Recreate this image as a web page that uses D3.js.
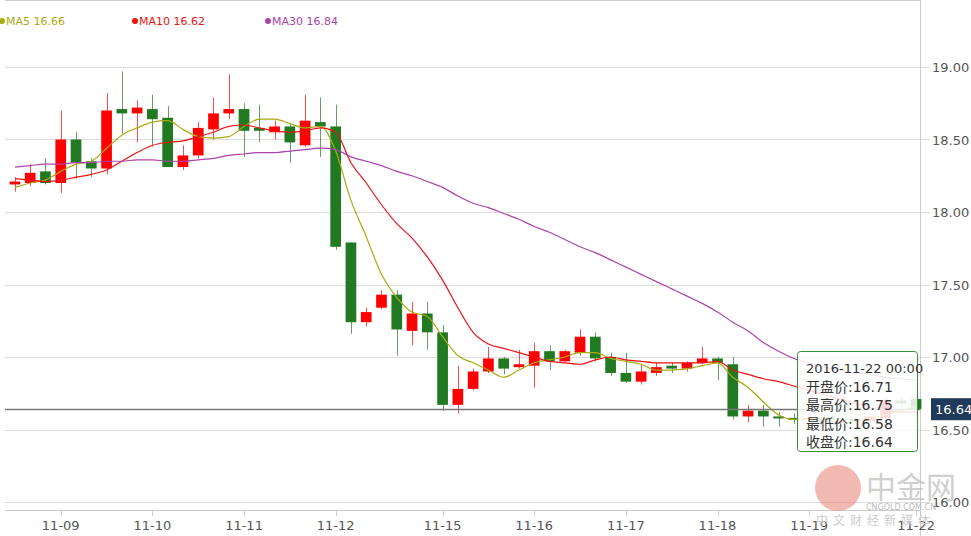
<!DOCTYPE html>
<html><head><meta charset="utf-8">
<script src="https://cdn.jsdelivr.net/npm/d3@7"></script>
<style>body{margin:0;background:#fff;font-family:"DejaVu Sans",sans-serif}</style>
</head><body><svg id="c" width="971" height="536"></svg>
<script>
const opens  =[18.19,18.20,18.28,18.20,18.50,18.35,18.30,18.71,18.68,18.71,18.65,18.31,18.39,18.57,18.68,18.71,18.58,18.55,18.59,18.46,18.62,18.59,17.79,17.24,17.34,17.43,17.18,17.30,17.17,16.67,16.78,16.90,16.99,16.93,16.94,17.04,16.97,17.03,17.14,17.00,16.89,16.83,16.89,16.94,16.92,16.96,16.99,16.95,16.59,16.63,16.59,16.58,16.57,16.58,16.55,16.57,16.56,16.58,16.70,16.71];
const closes =[18.21,18.27,18.20,18.50,18.34,18.30,18.70,18.68,18.72,18.64,18.31,18.39,18.58,18.68,18.71,18.56,18.56,18.59,18.48,18.63,18.59,17.76,17.24,17.31,17.43,17.19,17.30,17.17,16.67,16.78,16.90,16.99,16.92,16.95,17.04,16.97,17.04,17.14,16.99,16.89,16.83,16.90,16.93,16.92,16.96,16.99,16.96,16.59,16.63,16.59,16.58,16.57,16.58,16.55,16.56,16.56,16.59,16.70,16.68,16.64];
const highs  =[18.24,18.33,18.37,18.70,18.55,18.37,18.82,18.97,18.77,18.81,18.73,18.46,18.62,18.79,18.95,18.75,18.74,18.63,18.61,18.81,18.79,18.74,17.79,17.34,17.46,17.46,17.38,17.38,17.22,16.94,16.92,17.07,17.00,17.05,17.10,17.08,17.05,17.19,17.17,17.03,17.03,16.95,16.96,16.96,16.97,17.07,17.00,17.00,16.67,16.67,16.62,16.61,16.60,16.60,16.58,16.59,16.61,16.72,16.72,16.75];
const lows   =[18.14,18.18,18.19,18.13,18.23,18.24,18.26,18.54,18.48,18.45,18.31,18.29,18.37,18.50,18.64,18.38,18.48,18.50,18.34,18.45,18.38,17.74,17.16,17.21,17.33,17.01,17.08,17.05,16.63,16.61,16.77,16.89,16.88,16.92,16.79,16.91,16.96,17.01,16.97,16.87,16.82,16.81,16.87,16.89,16.90,16.95,16.84,16.57,16.55,16.52,16.52,16.54,16.55,16.55,16.52,16.54,16.54,16.56,16.66,16.58];
const ma5 =[18.17,18.20,18.22,18.28,18.33,18.35,18.44,18.53,18.58,18.62,18.63,18.57,18.52,18.51,18.52,18.59,18.64,18.64,18.61,18.58,18.59,18.42,18.08,17.83,17.57,17.41,17.31,17.28,17.14,17.01,16.96,16.91,16.86,16.91,16.96,16.98,17.00,17.03,17.03,16.99,16.97,16.95,16.91,16.91,16.92,16.94,16.96,16.86,16.79,16.69,16.60,16.57,16.57,16.58,16.57,16.57,16.58,16.60,16.63,16.66];
const ma10=[18.23,18.22,18.21,18.22,18.24,18.26,18.29,18.35,18.41,18.46,18.48,18.49,18.52,18.55,18.59,18.60,18.58,18.56,18.55,18.56,18.58,18.55,18.34,18.20,18.05,17.92,17.82,17.69,17.53,17.34,17.17,17.09,17.06,17.03,17.00,16.97,16.96,16.95,16.98,17.00,16.98,16.97,16.96,16.96,16.96,16.96,16.97,16.91,16.88,16.85,16.83,16.80,16.77,16.74,16.71,16.68,16.65,16.63,16.62,16.62];
const ma30=[18.31,18.32,18.33,18.33,18.34,18.34,18.35,18.35,18.36,18.36,18.35,18.35,18.36,18.37,18.39,18.40,18.41,18.41,18.42,18.43,18.44,18.43,18.38,18.35,18.32,18.28,18.25,18.21,18.17,18.11,18.06,18.03,17.99,17.95,17.90,17.86,17.81,17.76,17.72,17.67,17.62,17.57,17.52,17.47,17.42,17.37,17.31,17.24,17.18,17.10,17.04,16.99,16.96,16.93,16.91,16.89,16.88,16.86,16.85,16.84];
const xTickIdx=[3,9,15,21,28,34,40,46,52,59];
const xTickLabels=["11-09","11-10","11-11","11-12","11-15","11-16","11-17","11-18","11-19","11-22"];
const yTicks=[16.00,16.50,17.00,17.50,18.00,18.50,19.00];

const svg=d3.select("#c");
const x=d3.scaleBand().domain(d3.range(opens.length)).range([5,926]).padding(0.3);
const y=d3.scaleLinear().domain([16,19]).range([502,67]);
const cx=i=>x(i)+x.bandwidth()/2;
const R=920;
// grid
svg.append("line").attr("x1",5).attr("x2",R).attr("y1",0.5).attr("y2",0.5).attr("stroke","#ccc");
svg.selectAll(".g").data(yTicks).join("line").attr("x1",5).attr("x2",R+10)
 .attr("y1",d=>Math.round(y(d))+0.5).attr("y2",d=>Math.round(y(d))+0.5).attr("stroke","#ddd");
svg.append("line").attr("x1",R+0.5).attr("x2",R+0.5).attr("y1",0).attr("y2",536).attr("stroke","#ccc");
svg.selectAll(".yl").data(yTicks).join("text").attr("x",932).attr("y",d=>y(d)+5)
 .attr("font-size",13).attr("fill","#555").text(d=>d.toFixed(2));
// x axis
svg.append("line").attr("x1",5).attr("x2",R).attr("y1",510.5).attr("y2",510.5).attr("stroke","#ccc");
svg.selectAll(".xt").data(xTickIdx).join("line").attr("x1",d=>Math.round(cx(d))+0.5).attr("x2",d=>Math.round(cx(d))+0.5)
 .attr("y1",510).attr("y2",516).attr("stroke","#ccc");
svg.selectAll(".xl").data(xTickIdx).join("text").attr("x",d=>cx(d)).attr("y",530).attr("text-anchor","middle")
 .attr("font-size",13).attr("fill","#555").text((d,i)=>xTickLabels[i]);
// candles
const up=i=>closes[i]>=opens[i];
const col=i=>up(i)?"#ff0000":"#217a21";
const idx=d3.range(opens.length);
svg.selectAll(".w").data(idx).join("line").attr("x1",i=>Math.round(cx(i))+0.5).attr("x2",i=>Math.round(cx(i))+0.5)
 .attr("y1",i=>y(highs[i])).attr("y2",i=>y(lows[i])).attr("stroke",col).attr("opacity",0.7);
svg.selectAll(".b").data(idx).join("rect").attr("x",i=>x(i)).attr("width",x.bandwidth())
 .attr("y",i=>y(Math.max(opens[i],closes[i]))).attr("height",i=>Math.max(2,Math.abs(y(opens[i])-y(closes[i]))))
 .attr("fill",col);
// MAs
const line=d3.line().x((d,i)=>cx(i)).y(d=>y(d)).curve(d3.curveMonotoneX);
[[ma5,"#aaaa11"],[ma10,"#ee1111"],[ma30,"#aa44aa"]].forEach(([d,c])=>
 svg.append("path").attr("d",line(d)).attr("fill","none").attr("stroke",c).attr("stroke-width",1.2));
// price line
const last=closes[closes.length-1];
svg.append("line").attr("x1",5).attr("x2",R).attr("y1",Math.round(y(last))+0.5).attr("y2",Math.round(y(last))+0.5).attr("stroke","#777").attr("stroke-width",1.5);
svg.append("rect").attr("x",931).attr("y",y(last)-11).attr("width",40).attr("height",22).attr("fill","#1f3a5a");
svg.append("text").attr("x",935).attr("y",y(last)+5).attr("fill","#fff").attr("font-size",13).text(last.toFixed(2));
// legend
const leg=[["MA5 16.66","#aaaa11",0],["MA10 16.62","#ee1111",133],["MA30 16.84","#aa44aa",266]];
leg.forEach(([t,c,lx])=>{svg.append("circle").attr("cx",lx+2).attr("cy",21).attr("r",3).attr("fill",c);
 svg.append("text").attr("x",lx+6).attr("y",25).attr("font-size",11).attr("fill",c).text(t);});
// watermark
svg.append("circle").attr("cx",838).attr("cy",488).attr("r",23).attr("fill","#e88a7a").attr("opacity",0.6);
svg.append("text").attr("x",866).attr("y",498).attr("font-size",30).attr("font-family","Noto Sans CJK SC").attr("fill","#bbb").attr("opacity",0.7).text("中金网");
svg.append("text").attr("x",866).attr("y",510).attr("font-size",8).attr("fill","#bbb").text("CNGOLD.COM.CN");
svg.append("text").attr("x",816).attr("y",525).attr("font-size",12).attr("font-family","Noto Sans CJK SC").attr("fill","#ccc").attr("letter-spacing",5).text("中文财经新媒体");
// tooltip
const g=svg.append("g");
g.append("rect").attr("x",797.5).attr("y",351.5).attr("width",120).attr("height",100).attr("rx",3)
 .attr("fill","rgba(255,255,255,0.85)").attr("stroke","#3b8b3b");
const tt=["2016-11-22 00:00","开盘价:"+opens[59].toFixed(2),"最高价:"+highs[59].toFixed(2),"最低价:"+lows[59].toFixed(2),"收盘价:"+last.toFixed(2)];
tt.forEach((t,i)=>g.append("text").attr("x",806).attr("y",373+i*18.5).attr("font-size",i?14:13)
 .attr("font-family","DejaVu Sans, Noto Sans CJK SC").attr("fill","#333").text(t));
</script></body></html>
